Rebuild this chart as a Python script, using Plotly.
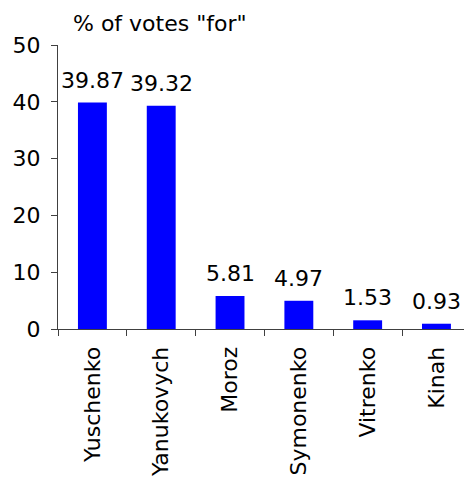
import plotly.graph_objects as go

candidates = ["Yuschenko", "Yanukovych", "Moroz", "Symonenko", "Vitrenko", "Kinah"]
votes = [39.87, 39.32, 5.81, 4.97, 1.53, 0.93]
y_ticks = [0, 10, 20, 30, 40, 50]
title_text = '% of votes "for"'

FONT = "DejaVu Sans, Verdana, sans-serif"
FS = 22
AXIS_COLOR = "#404040"

fig = go.Figure(go.Bar(
    x=candidates, y=votes,
    marker=dict(color="#0000FF", line=dict(width=0)),
    hoverinfo="x+y",
))

W, H = 464, 480
ml, mt, mb = 58, 45, 151
plot_w = W - ml
plot_h = H - mt - mb

value_labels = [dict(
    x=c, y=v, xref="x", yref="y", text=f"{v:.2f}",
    showarrow=False, xanchor="center", yanchor="bottom", yshift=8,
    font=dict(family=FONT, size=FS, color="black"),
) for c, v in zip(candidates, votes)]

fig.update_layout(
    width=W, height=H,
    margin=dict(l=ml, r=0, t=mt, b=mb, pad=0),
    plot_bgcolor="white", paper_bgcolor="white",
    bargap=0.58,
    showlegend=False,
    font=dict(family=FONT, size=FS, color="black"),
    xaxis=dict(
        type="category", range=[-0.5, 5.4],
        showline=True, linecolor=AXIS_COLOR, linewidth=1,
        ticks="outside", tickson="boundaries", ticklen=6, tickcolor=AXIS_COLOR,
        tickangle=-90, tickfont=dict(family=FONT, size=FS),
        ticklabelstandoff=8,
        showgrid=False, zeroline=False,
    ),
    yaxis=dict(
        range=[0, 50], tickvals=y_ticks,
        showline=True, linecolor=AXIS_COLOR, linewidth=1,
        ticks="outside", ticklen=6, tickcolor=AXIS_COLOR,
        tickfont=dict(family=FONT, size=FS),
        ticklabelstandoff=6,
        showgrid=False, zeroline=False,
    ),
    annotations=value_labels + [dict(
        text=title_text, xref="paper", yref="paper",
        x=(71 - ml) / plot_w, y=1 + (mt - 24) / plot_h,
        xanchor="left", yanchor="middle", showarrow=False,
        font=dict(family=FONT, size=FS, color="black"),
    )],
)

fig.write_html("out.html")
